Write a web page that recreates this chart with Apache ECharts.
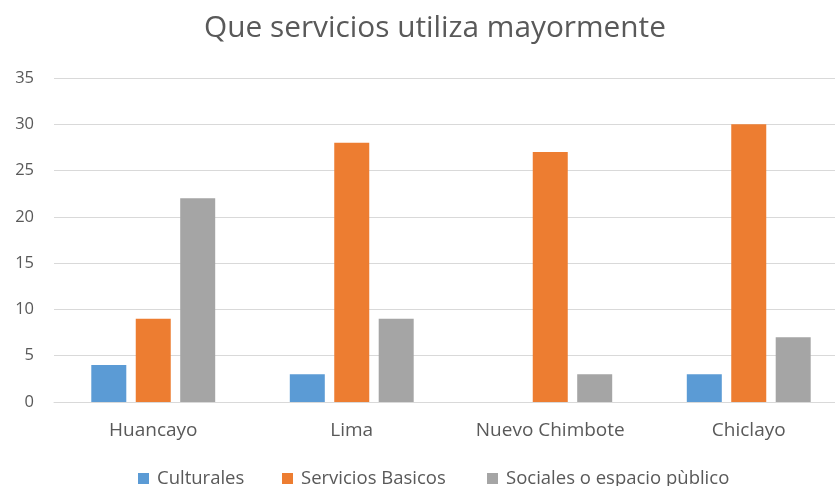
<!DOCTYPE html>
<html>
<head>
<meta charset="utf-8">
<script src="https://cdn.jsdelivr.net/npm/echarts@6/dist/echarts.min.js"></script>
<style>
  html, body { margin: 0; padding: 0; background: #fff; overflow: hidden; }
  /* the plot runs slightly past the right edge of the window */
  #chart { width: 848px; height: 486px; }
</style>
</head>
<body>
<div id="chart"></div>
<script>
// Categories and series values
const cities = ['Huancayo', 'Lima', 'Nuevo Chimbote', 'Chiclayo'];
const seriesNames = ['Culturales', 'Servicios Basicos', 'Sociales o espacio pùblico'];
const culturales = [4, 3, 0, 3];
const serviciosBasicos = [9, 28, 27, 30];
const socialesEspacio = [22, 9, 3, 7];
const yTicks = { min: 0, max: 35, interval: 5 };

const FONT = 'Open Sans';
const TEXT = '#595959';
const COLORS = ['#5b9bd5', '#ed7d31', '#a5a5a5'];

const chart = echarts.init(document.getElementById('chart'), null, { renderer: 'canvas' });

function barSeries(name, data, color) {
  return {
    name: name,
    type: 'bar',
    data: data,
    barWidth: 35,
    barGap: '27%',
    itemStyle: { color: color },
    emphasis: { disabled: true }
  };
}

// one legend entry per series, spaced along the bottom row
const legendLeft = [138, 282, 487];
const legends = seriesNames.map((name, i) => ({
  data: [name],
  left: legendLeft[i],
  top: 469,
  padding: 0,
  itemWidth: 11,
  itemHeight: 11,
  icon: 'rect',
  selectedMode: false,
  textStyle: { fontFamily: FONT, fontSize: 18.5, color: TEXT, padding: [0, 0, 0, 3] }
}));

chart.setOption({
  animation: false,
  textStyle: { fontFamily: FONT },
  title: {
    text: 'Que servicios utiliza mayormente',
    left: 435,
    textAlign: 'center',
    top: 9,
    textStyle: { fontFamily: FONT, fontSize: 29.8, fontWeight: 'normal', color: TEXT }
  },
  legend: legends,
  grid: { left: 54, right: 0, top: 78, bottom: 84, containLabel: false },
  xAxis: {
    type: 'category',
    data: cities,
    axisLine: { lineStyle: { color: '#d9d9d9', width: 1 } },
    axisTick: { show: false },
    axisLabel: { color: TEXT, fontSize: 19, fontFamily: FONT, margin: 19 }
  },
  yAxis: {
    type: 'value',
    min: yTicks.min,
    max: yTicks.max,
    interval: yTicks.interval,
    axisLine: { show: false },
    axisTick: { show: false },
    splitLine: { lineStyle: { color: '#d9d9d9', width: 1 } },
    axisLabel: { color: TEXT, fontSize: 16.5, fontFamily: FONT, margin: 20 }
  },
  series: [
    barSeries(seriesNames[0], culturales, COLORS[0]),
    barSeries(seriesNames[1], serviciosBasicos, COLORS[1]),
    barSeries(seriesNames[2], socialesEspacio, COLORS[2])
  ]
}, true);

// pull the title a few pixels left so it sits over the plot's visible centre
chart.setOption({ title: { left: 430 } });
</script>
</body>
</html>
